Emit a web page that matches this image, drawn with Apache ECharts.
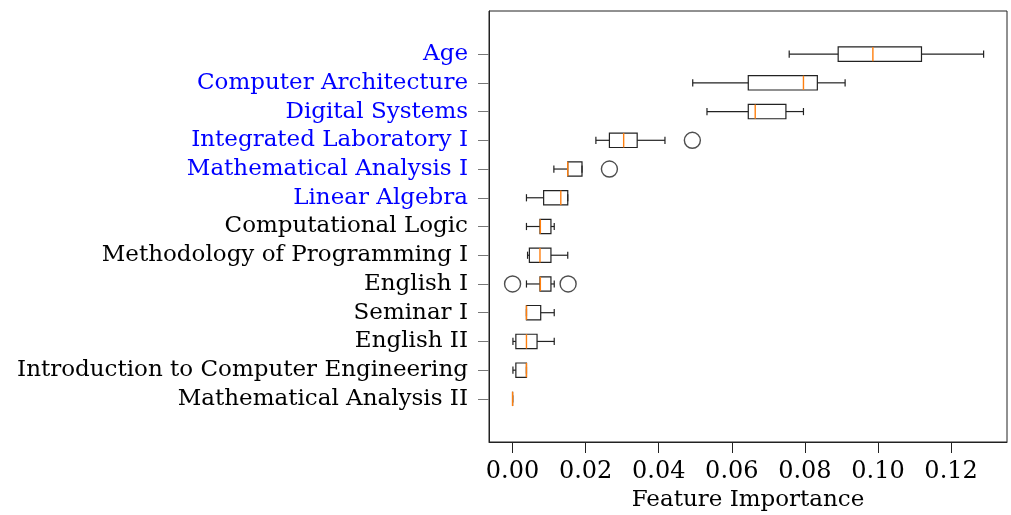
<!DOCTYPE html>
<html>
<head>
<meta charset="utf-8">
<script src="https://cdn.jsdelivr.net/npm/echarts@6/dist/echarts.min.js"></script>
<style>
  html, body { margin: 0; padding: 0; background: #fff; }
  #echart-importance { width: 1011px; height: 515px; }
</style>
</head>
<body>
<div id="echart-importance"></div>
<script>
// Feature importance box plots
var categories = ['Age', 'Computer Architecture', 'Digital Systems', 'Integrated Laboratory I',
    'Mathematical Analysis I', 'Linear Algebra', 'Computational Logic',
    'Methodology of Programming I', 'English I', 'Seminar I', 'English II',
    'Introduction to Computer Engineering', 'Mathematical Analysis II'];
var highlighted = ['Age', 'Computer Architecture', 'Digital Systems', 'Integrated Laboratory I',
    'Mathematical Analysis I', 'Linear Algebra'];
var whiskerLow  = [0.0757, 0.0493, 0.0532, 0.0228, 0.0113, 0.0038, 0.0038, 0.0041, 0.0038, 0.0038, 0.0001, 0.0001, 0.0000];
var quartile1   = [0.0891, 0.0645, 0.0645, 0.0265, 0.0151, 0.0085, 0.0075, 0.0046, 0.0075, 0.0038, 0.0009, 0.0009, 0.0000];
var medians     = [0.0986, 0.0796, 0.0664, 0.0304, 0.0151, 0.0132, 0.0076, 0.0075, 0.0076, 0.0038, 0.0038, 0.0038, 0.0000];
var quartile3   = [0.1119, 0.0834, 0.0748, 0.0341, 0.0190, 0.0151, 0.0105, 0.0105, 0.0105, 0.0077, 0.0067, 0.0038, 0.0000];
var whiskerHigh = [0.1289, 0.0910, 0.0796, 0.0417, 0.0190, 0.0151, 0.0114, 0.0151, 0.0114, 0.0114, 0.0114, 0.0038, 0.0000];
// [feature, value]
var outliers = [
    ['Integrated Laboratory I', 0.0492],
    ['Mathematical Analysis I', 0.0265],
    ['English I', 0.0000],
    ['English I', 0.0152]
];
var xTicks = [0, 0.02, 0.04, 0.06, 0.08, 0.10, 0.12];

(function() {
    "use strict";
    var chart = getChart("echart-importance");
    var font = 'DejaVu Serif';
    var ink = '#222';

    // one empty slot above and below, like the matplotlib margins
    var axisData = [''].concat(categories).concat(['']);

    var boxData = categories.map(function(name, i) {
        return [i + 1, whiskerLow[i], quartile1[i], medians[i], quartile3[i], whiskerHigh[i]];
    });
    var outlierData = outliers.map(function(o) {
        return [o[1], categories.indexOf(o[0]) + 1];
    });

    function renderBox(params, api) {
        var y = api.value(0);
        var band = api.size([0, 1])[1];
        var half = band * 0.25;
        var cap = band * 0.125;
        var pLow = api.coord([api.value(1), y]);
        var pQ1 = api.coord([api.value(2), y]);
        var pMed = api.coord([api.value(3), y]);
        var pQ3 = api.coord([api.value(4), y]);
        var pHigh = api.coord([api.value(5), y]);
        var cy = pQ1[1];
        var line = { stroke: ink, lineWidth: 1.2 };
        return {
            type: 'group',
            children: [
                { type: 'line', shape: { x1: pLow[0], y1: cy, x2: pQ1[0], y2: cy }, style: line },
                { type: 'line', shape: { x1: pQ3[0], y1: cy, x2: pHigh[0], y2: cy }, style: line },
                { type: 'line', shape: { x1: pLow[0], y1: cy - cap, x2: pLow[0], y2: cy + cap }, style: line },
                { type: 'line', shape: { x1: pHigh[0], y1: cy - cap, x2: pHigh[0], y2: cy + cap }, style: line },
                { type: 'rect', shape: { x: pQ1[0], y: cy - half, width: pQ3[0] - pQ1[0], height: half * 2 },
                  style: { fill: 'none', stroke: ink, lineWidth: 1.2 } },
                { type: 'line', shape: { x1: pMed[0], y1: cy - half, x2: pMed[0], y2: cy + half },
                  style: { stroke: '#ff7f0e', lineWidth: 1.4 } }
            ]
        };
    }

    var option = {
        animation: false,
        backgroundColor: '#fff',
        textStyle: { fontFamily: font },
        grid: {
            left: 489,
            right: 4,
            top: 11,
            bottom: 73,
            outerBoundsMode: 'none',
            containLabel: false,
            show: true,
            borderColor: ink,
            borderWidth: 1
        },
        xAxis: {
            type: 'value',
            min: -0.00645,
            max: 0.1353,
            name: 'Feature Importance',
            nameLocation: 'middle',
            nameGap: 47,
            nameTextStyle: { color: '#000', fontSize: 23, fontFamily: font },
            splitLine: { show: false },
            axisLine: { show: true, lineStyle: { color: ink } },
            axisTick: {
                show: true,
                length: 11,
                lineStyle: { color: ink },
                customValues: xTicks
            },
            axisLabel: {
                color: '#000',
                fontSize: 24,
                fontFamily: font,
                margin: 18,
                customValues: xTicks,
                formatter: function(v) { return v.toFixed(2); }
            }
        },
        yAxis: {
            type: 'category',
            inverse: true,
            data: axisData,
            axisLine: { show: true, onZero: false, lineStyle: { color: ink } },
            axisTick: {
                show: true,
                length: 11,
                alignWithLabel: true,
                lineStyle: { color: '#777' },
                interval: function(index, value) { return value !== ''; }
            },
            axisLabel: {
                fontSize: 23,
                fontFamily: font,
                margin: 21,
                interval: 0,
                color: function(value) {
                    return highlighted.indexOf(value) >= 0 ? '#0000ff' : '#000';
                }
            },
            splitLine: { show: false }
        },
        series: [
            {
                name: 'box',
                type: 'custom',
                renderItem: renderBox,
                encode: { x: [1, 2, 3, 4, 5], y: 0 },
                data: boxData,
                z: 3
            },
            {
                name: 'outliers',
                type: 'scatter',
                symbol: 'circle',
                symbolSize: 16,
                itemStyle: { color: 'rgba(0,0,0,0)', borderColor: ink, borderWidth: 1.4 },
                data: outlierData,
                z: 4
            }
        ]
    };
    if (option && typeof option === "object") {
        chart.setOption(option, true);
    }
    window.addEventListener('resize', function() {
        chart.resize();
    });
})();

function getChart(id) {
    var dom = document.getElementById(id);
    return echarts.init(dom);
}
</script>
</body>
</html>
